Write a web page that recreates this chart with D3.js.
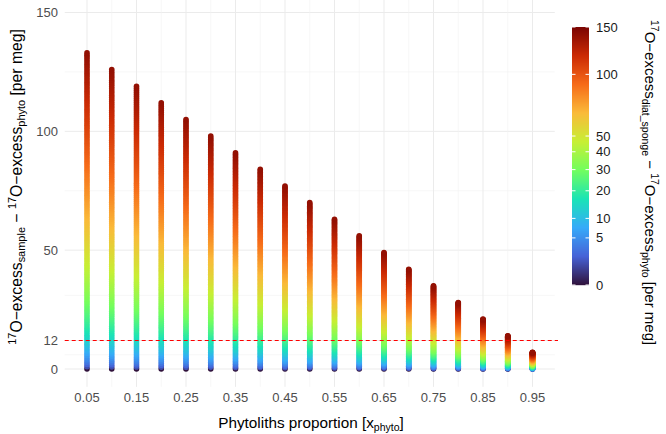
<!DOCTYPE html>
<html><head><meta charset="utf-8">
<script src="https://cdn.jsdelivr.net/npm/d3@7"></script>
<style>body{margin:0;background:#fff}svg{display:block;font-family:"Liberation Sans",Arial,sans-serif}</style>
</head><body><svg id="c" width="666" height="434"></svg>
<script>
// ---- data ----
const proportions = [0.05,0.10,0.15,0.20,0.25,0.30,0.35,0.40,0.45,0.50,0.55,0.60,0.65,0.70,0.75,0.80,0.85,0.90,0.95];
const diffValues = d3.range(0, 141, 1); // 17O-excess diat_sponge - phyto [per meg], 0..140
const xTickLabels = [0.05,0.15,0.25,0.35,0.45,0.55,0.65,0.75,0.85,0.95];
const xMinorTicks = [0.10,0.20,0.30,0.40,0.50,0.60,0.70,0.80,0.90];
const yTickLabels = [0,12,50,100,150];
const yMinorTicks = [6,31,75,125];
const thresholdValue = 12;
const legendTicks = [0,5,10,20,30,40,50,100,150];
const colorLimits = [0,150];
const turboStops = ["#30123B","#4662D7","#36AAF9","#1AE4B6","#72FE5E","#C7EF34","#FABA39","#F66B19","#CB2A04","#7A0403"];

const svg = d3.select("#c");
const x = d3.scaleLinear().domain([0.05,0.95]).range([87,532.5]);
const y = d3.scaleLinear().domain([0,150]).range([369,12.5]);
const panel = {x0: x(0.005), x1: x(0.995), y0: 0, y1: y(-7.5)};

const turbo = d3.scaleLinear().domain(turboStops.map((d,i)=>i/(turboStops.length-1))).range(turboStops).interpolate(d3.interpolateRgb).clamp(true);
const sq = d3.scaleSqrt().domain(colorLimits).range([0,1]).clamp(true);
const color = v => turbo(sq(v));

// grid
const g = svg.append("g");
g.selectAll(".hmin").data(yMinorTicks).join("line")
  .attr("x1",panel.x0).attr("x2",panel.x1).attr("y1",d=>y(d)).attr("y2",d=>y(d))
  .attr("stroke","#f2f2f2").attr("stroke-width",0.6);
g.selectAll(".hmaj").data(yTickLabels).join("line")
  .attr("x1",panel.x0).attr("x2",panel.x1).attr("y1",d=>y(d)).attr("y2",d=>y(d))
  .attr("stroke","#ebebeb").attr("stroke-width",1);
g.selectAll(".vmin").data(xMinorTicks).join("line")
  .attr("y1",panel.y0).attr("y2",panel.y1).attr("x1",d=>x(d)).attr("x2",d=>x(d))
  .attr("stroke","#f2f2f2").attr("stroke-width",0.6);
g.selectAll(".vmaj").data(xTickLabels).join("line")
  .attr("y1",panel.y0).attr("y2",panel.y1).attr("x1",d=>x(d)).attr("x2",d=>x(d))
  .attr("stroke","#ebebeb").attr("stroke-width",1);

// points
const pts = [];
proportions.forEach(p => diffValues.forEach(dv => pts.push({p, dv, v:(1-p)*dv})));
svg.append("g").selectAll("circle").data(pts).join("circle")
  .attr("cx",d=>x(d.p)).attr("cy",d=>y(d.v)).attr("r",2.8)
  .attr("fill",d=>color(d.dv));

// threshold line
svg.append("line").attr("x1",panel.x0).attr("x2",558).attr("y1",y(thresholdValue)).attr("y2",y(thresholdValue))
  .attr("stroke","#ff0000").attr("stroke-width",1.1).attr("stroke-dasharray","4,3");

// axes labels
svg.append("g").selectAll("text").data(yTickLabels).join("text")
  .attr("x",58).attr("y",d=>y(d)).attr("dy","0.35em").attr("text-anchor","end")
  .attr("font-size",13).attr("fill","#4d4d4d").text(d=>d);
svg.append("g").selectAll("text").data(xTickLabels).join("text")
  .attr("x",d=>x(d)).attr("y",397).attr("dy","0.35em").attr("text-anchor","middle")
  .attr("font-size",13).attr("fill","#4d4d4d").text(d=>d3.format(".2f")(d));

// x title
const xt = svg.append("text").attr("x",311).attr("y",428).attr("text-anchor","middle").attr("font-size",15.3).attr("fill","#000");
xt.append("tspan").text("Phytoliths proportion [x");
xt.append("tspan").attr("font-size",10.5).attr("dy",3).text("phyto");
xt.append("tspan").attr("dy",-3).text("]");

function richTitle(sel, sub1, sub2, s){
  sel.append("tspan").attr("font-size",10.5*s).attr("dy",-6*s).text("17");
  sel.append("tspan").attr("dy",6*s).text("O\u2212excess");
  sel.append("tspan").attr("font-size",10.5*s).attr("dy",3*s).text(sub1);
  sel.append("tspan").attr("dy",-3*s).text(" \u2212 ");
  sel.append("tspan").attr("font-size",10.5*s).attr("dy",-6*s).text("17");
  sel.append("tspan").attr("dy",6*s).text("O\u2212excess");
  sel.append("tspan").attr("font-size",10.5*s).attr("dy",3*s).text(sub2);
  sel.append("tspan").attr("dy",-3*s).text(" [per meg]");
}
// y title
const yt = svg.append("text").attr("transform","translate(22,187) rotate(-90)").attr("text-anchor","middle").attr("font-size",15.7).attr("fill","#000");
richTitle(yt,"sample","phyto",1.045);

// legend
const lg = svg.append("g");
const lx0 = 572, lw = 17, ly0 = 27, ly1 = 285;
const ly = d3.scaleSqrt().domain(colorLimits).range([ly1, ly0]);
const steps = d3.range(ly0, ly1, 1);
lg.selectAll("rect").data(steps).join("rect")
  .attr("x",lx0).attr("y",d=>d).attr("width",lw).attr("height",1.2)
  .attr("fill",d=>color(ly.invert(d+0.5)));
lg.selectAll(".tl").data(legendTicks).join("line").attr("x1",lx0).attr("x2",lx0+3.5)
  .attr("y1",d=>ly(d)).attr("y2",d=>ly(d)).attr("stroke","#fff").attr("stroke-width",1);
lg.selectAll(".tr").data(legendTicks).join("line").attr("x1",lx0+lw-3.5).attr("x2",lx0+lw)
  .attr("y1",d=>ly(d)).attr("y2",d=>ly(d)).attr("stroke","#fff").attr("stroke-width",1);
lg.selectAll("text").data(legendTicks).join("text").attr("x",596).attr("y",d=>ly(d)).attr("dy","0.35em")
  .attr("font-size",13).attr("fill","#1a1a1a").text(d=>d);
const lt = svg.append("text").attr("transform","translate(645,20) rotate(90)").attr("text-anchor","start").attr("font-size",15).attr("fill","#000");
richTitle(lt,"diat_sponge","phyto",1);
</script></body></html>
